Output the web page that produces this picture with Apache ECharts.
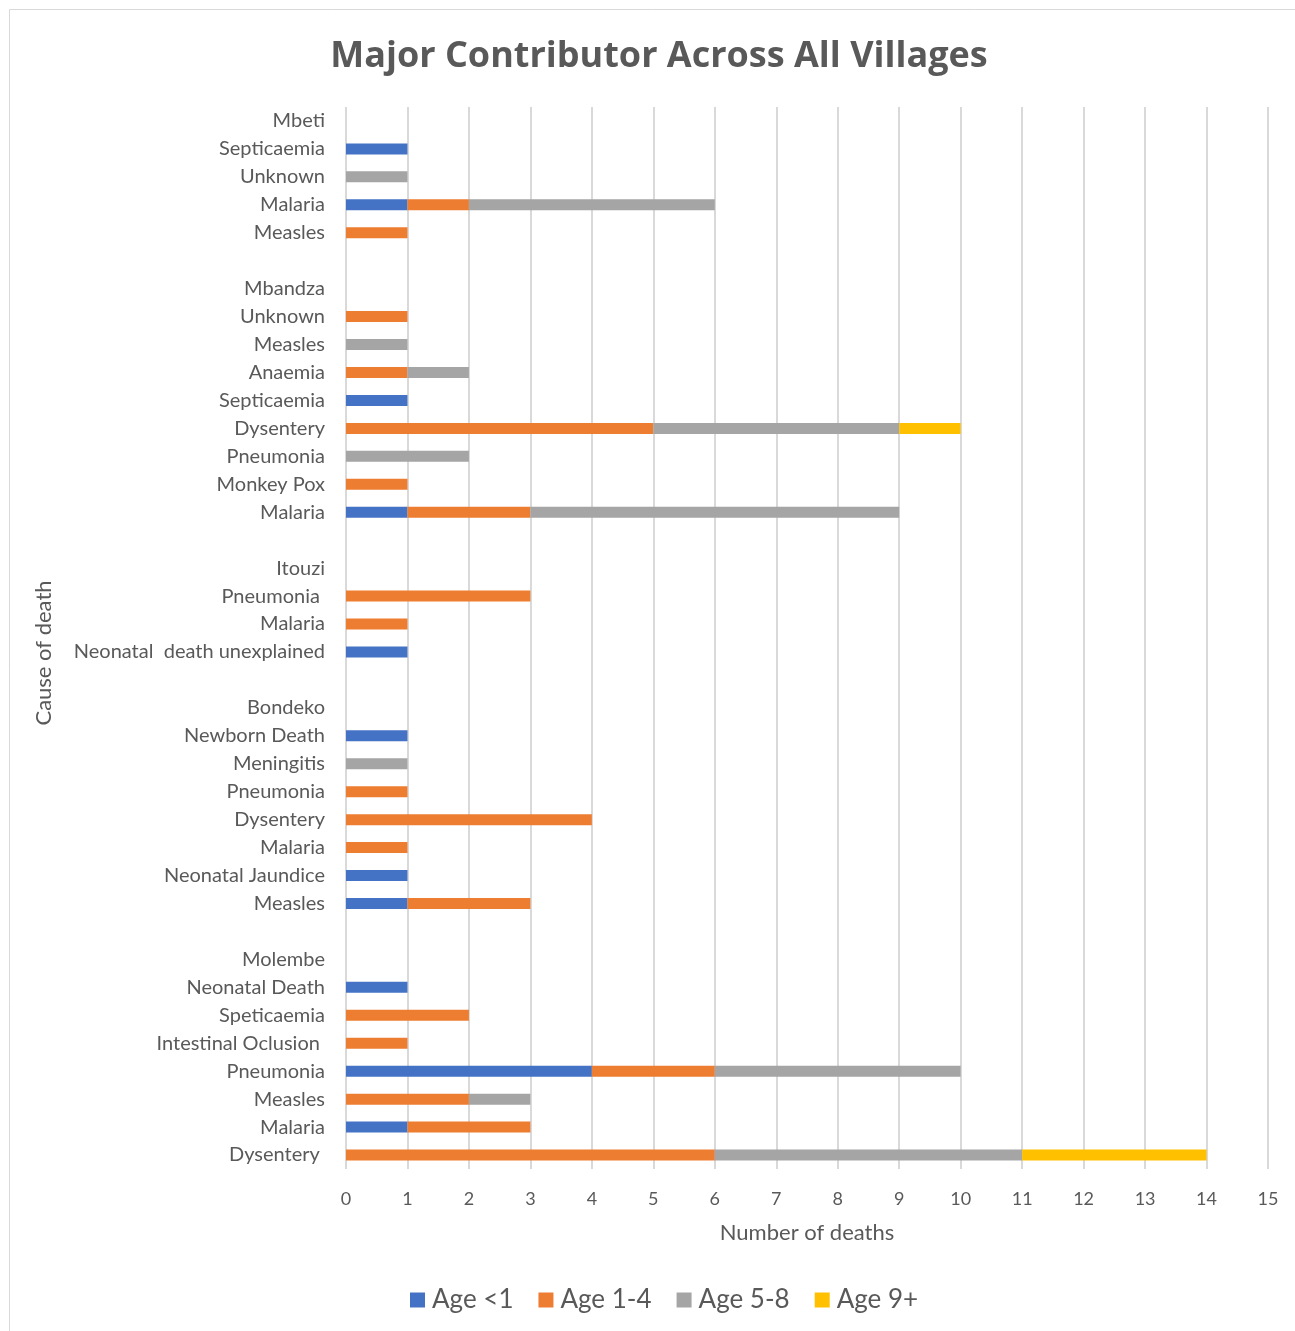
<!DOCTYPE html>
<html>
<head>
<meta charset="utf-8">
<script src="https://cdn.jsdelivr.net/npm/echarts@6/dist/echarts.min.js"></script>
<style>
html,body{margin:0;padding:0;background:#fff;}
#chart{width:1295px;height:1331px;}
</style>
</head>
<body>
<div id="chart"></div>
<script>
const categories = ['Mbeti','Septicaemia','Unknown','Malaria','Measles','',
  'Mbandza','Unknown','Measles','Anaemia','Septicaemia','Dysentery','Pneumonia','Monkey Pox','Malaria','',
  'Itouzi','Pneumonia ','Malaria','Neonatal  death unexplained','',
  'Bondeko','Newborn Death','Meningitis','Pneumonia','Dysentery','Malaria','Neonatal Jaundice','Measles','',
  'Molembe','Neonatal Death','Speticaemia','Intestinal Oclusion ','Pneumonia','Measles','Malaria','Dysentery '];

const ageUnder1 = [null,1,null,1,null,null,
  null,null,null,null,1,null,null,null,1,null,
  null,null,null,1,null,
  null,1,null,null,null,null,1,1,null,
  null,1,null,null,4,null,1,null];
const age1to4 = [null,null,null,1,1,null,
  null,1,null,1,null,5,null,1,2,null,
  null,3,1,null,null,
  null,null,null,1,4,1,null,2,null,
  null,null,2,1,2,2,2,6];
const age5to8 = [null,null,1,4,null,null,
  null,null,1,1,null,4,2,null,6,null,
  null,null,null,null,null,
  null,null,1,null,null,null,null,null,null,
  null,null,null,null,4,1,null,5];
const age9plus = [null,null,null,null,null,null,
  null,null,null,null,null,1,null,null,null,null,
  null,null,null,null,null,
  null,null,null,null,null,null,null,null,null,
  null,null,null,null,null,null,null,3];

const seriesNames = ['Age <1','Age 1-4','Age 5-8','Age 9+'];
const xTicks = [0,1,2,3,4,5,6,7,8,9,10,11,12,13,14,15];

const FONT = 'Lato, "Open Sans", sans-serif';
const chart = echarts.init(document.getElementById('chart'), null, {renderer:'canvas'});
const colors = ['#4472C4','#ED7D31','#A5A5A5','#FFC000'];
const dataSets = [ageUnder1, age1to4, age5to8, age9plus];

chart.setOption({
  animation:false,
  backgroundColor:'#fff',
  color: colors,
  textStyle:{fontFamily:FONT},
  graphic:[
    {type:'rect',shape:{x:9.5,y:9.5,width:1300,height:1340},style:{fill:'none',stroke:'#d9d9d9',lineWidth:1},silent:true},
    {type:'text',x:44,y:653,rotation:Math.PI/2,silent:true,
      style:{text:'Cause of death',fill:'#595959',font:'22px Lato, "Open Sans", sans-serif',align:'center',verticalAlign:'middle'}}
  ],
  title:{
    text:'Major Contributor Across All Villages',
    left:654, top:34, textAlign:'center',
    textStyle:{fontFamily:'"Open Sans", Lato, sans-serif',fontSize:36,fontWeight:'bold',color:'#595959'}
  },
  legend:{
    bottom:18, left:410, padding:0,
    itemWidth:15, itemHeight:15, itemGap:25,
    icon:'rect',
    textStyle:{fontFamily:FONT,fontSize:26,color:'#595959',padding:[0,0,0,2]},
    data:seriesNames
  },
  grid:{left:346,right:27,top:107,bottom:162,containLabel:false},
  xAxis:{
    type:'value', min:0, max:15, interval:1,
    name:'Number of deaths', nameLocation:'middle', nameGap:53,
    nameTextStyle:{fontFamily:FONT,fontSize:22,color:'#595959'},
    axisLine:{show:false}, axisTick:{show:false},
    axisLabel:{margin:21,fontFamily:FONT,fontSize:18,color:'#595959',
      formatter:function(v){return xTicks.indexOf(v)>=0?String(v):'';}},
    splitLine:{show:true,lineStyle:{color:'#d9d9d9',width:2}}
  },
  yAxis:{
    type:'category', inverse:true, data:categories,
    axisLine:{show:false}, axisTick:{show:false},
    axisLabel:{margin:21,fontFamily:FONT,fontSize:20,color:'#595959',interval:0},
    splitLine:{show:false}
  },
  series: seriesNames.map((n,i)=>({
    name:n, type:'bar', stack:'total', barWidth:11,
    data:dataSets[i],
    itemStyle:{color:colors[i]}
  }))
});
</script>
</body>
</html>
